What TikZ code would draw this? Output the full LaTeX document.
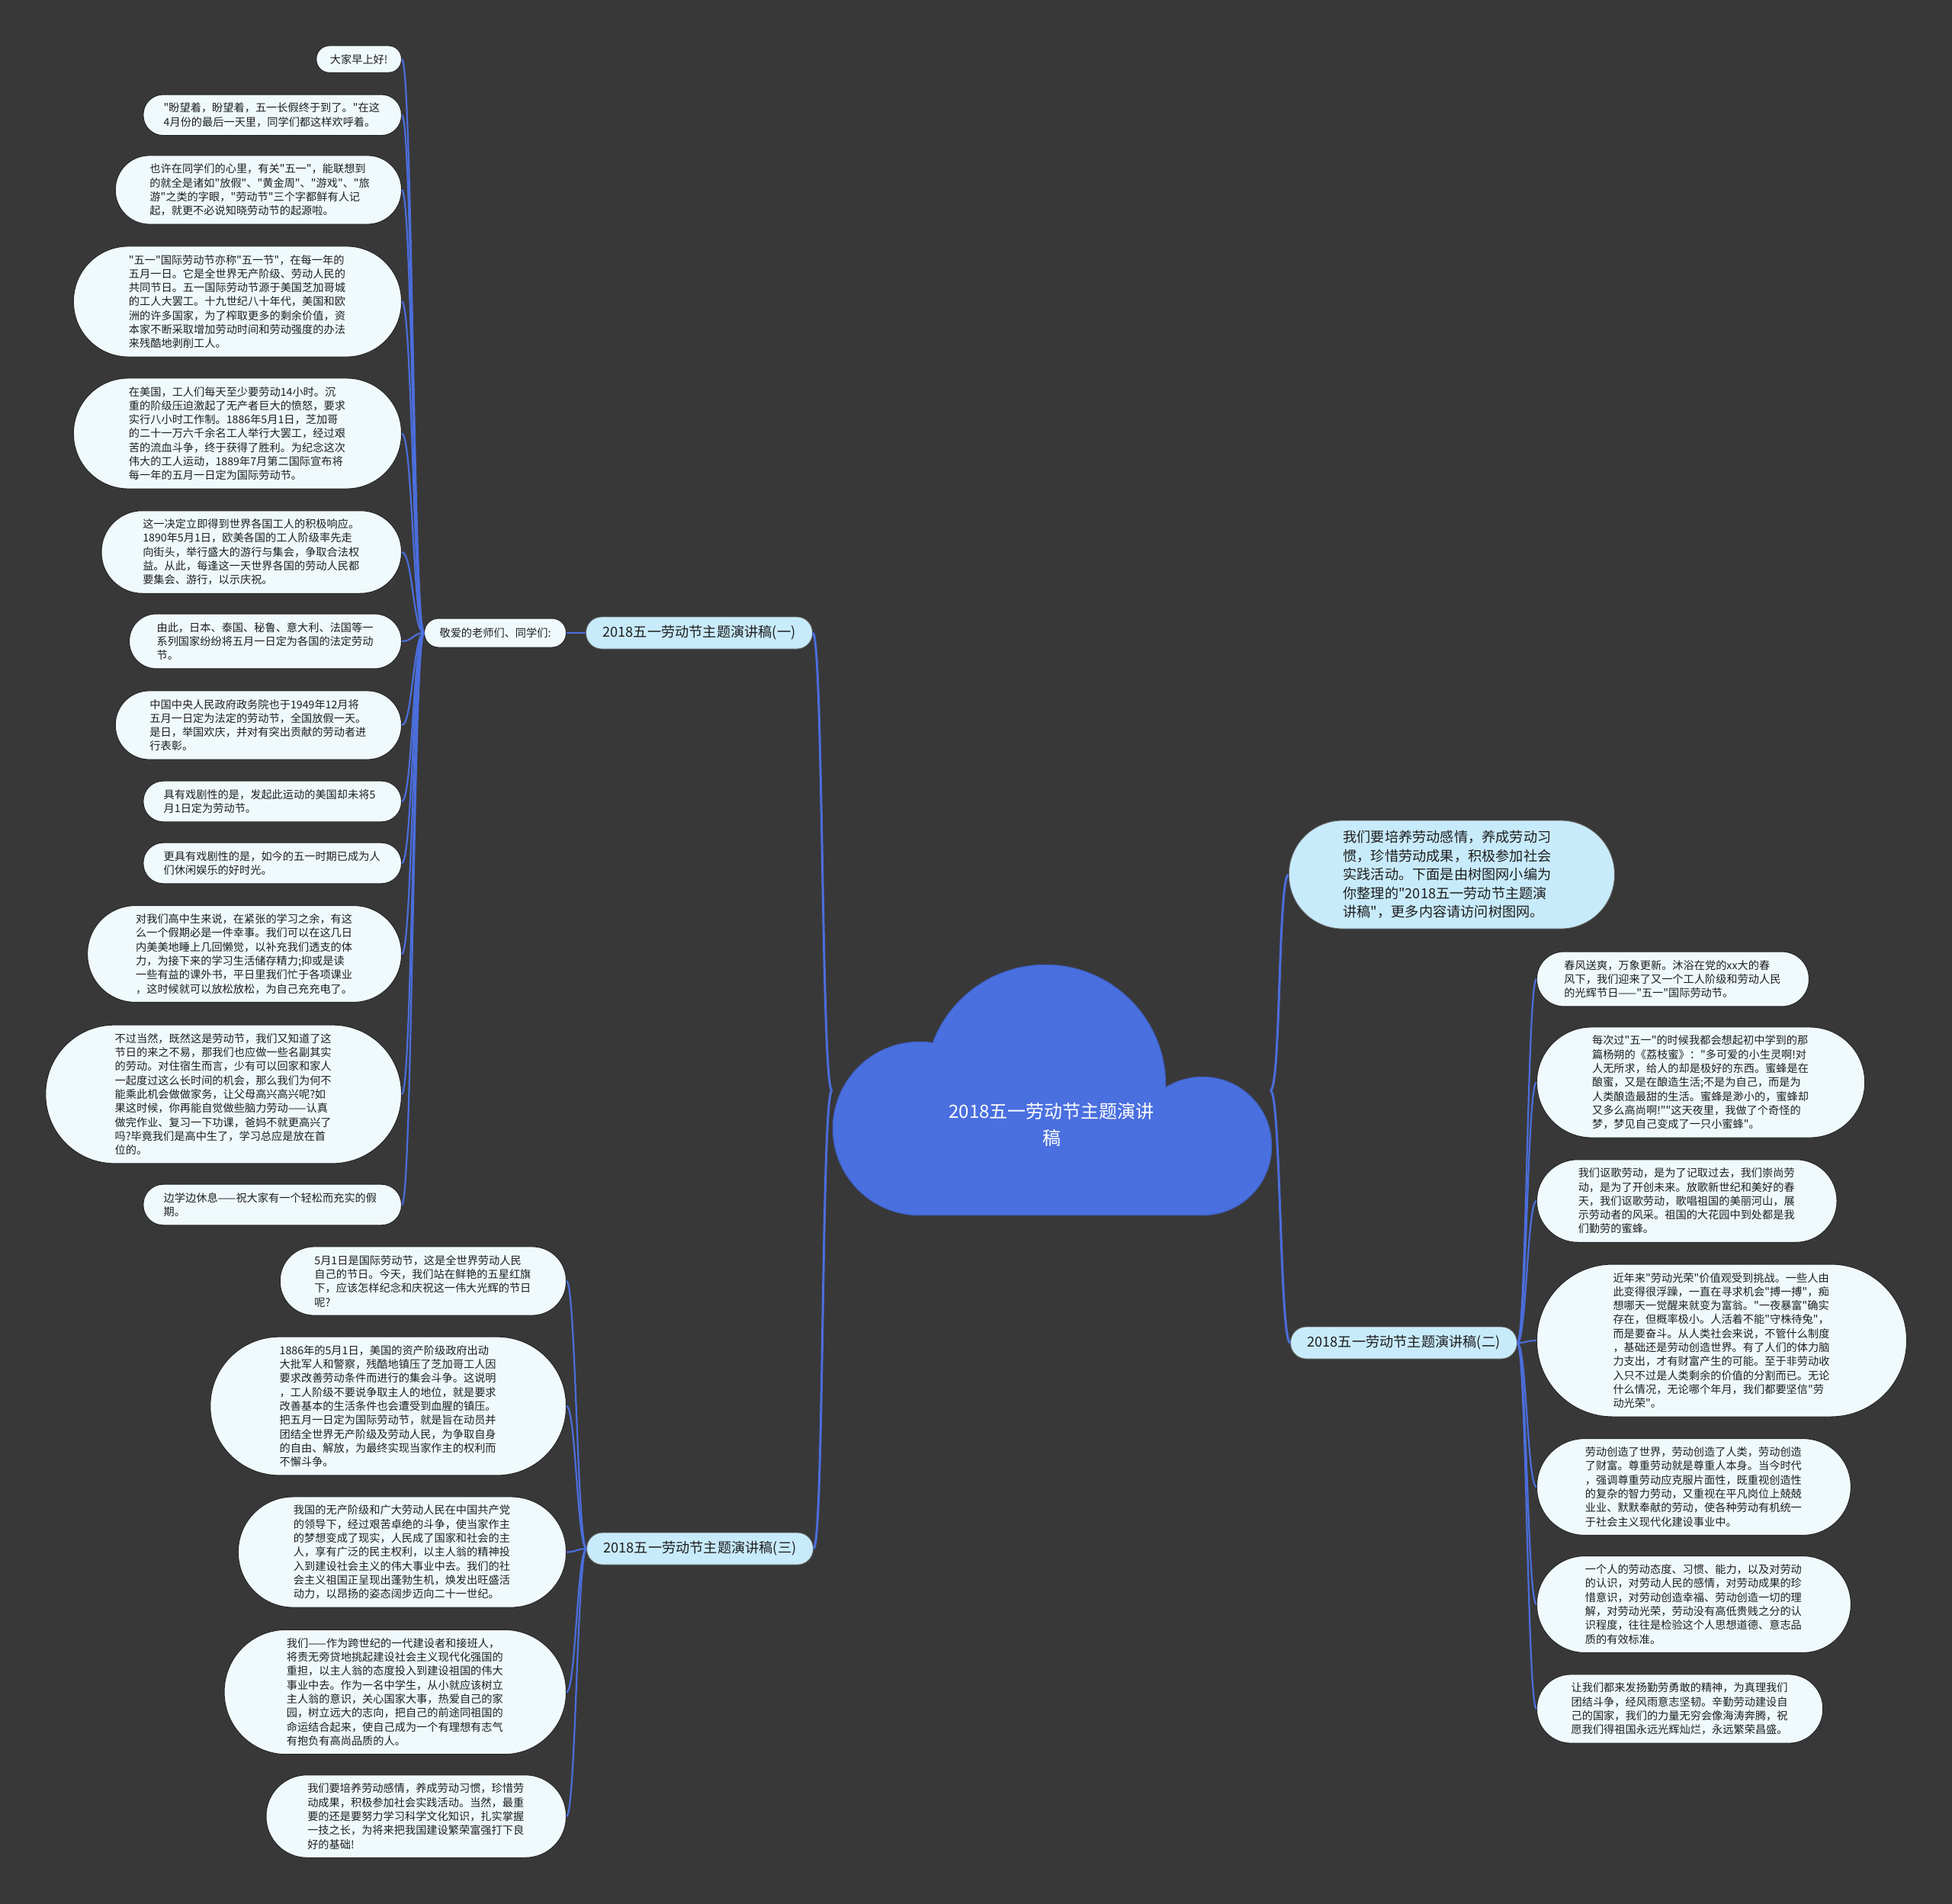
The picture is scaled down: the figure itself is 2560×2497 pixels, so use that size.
\documentclass[tikz,border=0pt]{standalone}
\usepackage{fontspec}
\newfontfamily\cjk{Noto Sans CJK SC}
\definecolor{bgc}{HTML}{393839}
\definecolor{leafc}{HTML}{F0FAFD}
\definecolor{branchc}{HTML}{C8EBFB}
\definecolor{linec}{HTML}{4B6EDC}
\definecolor{cloudc}{HTML}{4A6FDF}
\definecolor{cloudb}{HTML}{3F61C6}
\definecolor{inkc}{HTML}{1E1E1E}
\begin{document}
\begin{tikzpicture}[x=1pt,y=-1pt,
  conn/.style={draw=linec, line width=2.2pt},
  mainconn/.style={draw=linec, line width=3pt},
  leaf/.style={draw=black!85, line width=1pt, fill=leafc, text=inkc,
    font=\cjk\fontsize{14.2pt}{18.3pt}\selectfont,
    text width=285pt, align=left, inner ysep=0pt,
    inner xsep={(18.3*#1+17)/2},
    minimum height={18.3*#1+17},
    rounded corners={(18.3*#1+17)/2-0.5}},
  shortleaf/.style={draw=black!85, line width=1pt, fill=leafc, text=inkc,
    font=\cjk\fontsize{14.2pt}{18.3pt}\selectfont,
    inner ysep=0pt, inner xsep=18pt, minimum height=35.3pt, rounded corners=17pt},
  subnode/.style={draw=black!85, line width=1pt, fill=leafc, text=inkc,
    font=\cjk\fontsize{14.2pt}{18.3pt}\selectfont,
    inner ysep=0pt, inner xsep=20pt, minimum height=38pt, rounded corners=18.5pt},
  branch/.style={fill=branchc, draw=black!60, line width=0.8pt, text=inkc,
    font=\cjk\fontsize{18.2pt}{22pt}\selectfont,
    inner ysep=0pt, inner xsep=22pt, minimum height=42pt, rounded corners=20.5pt},
  intro/.style={fill=branchc, draw=black!60, line width=0.8pt, text=inkc,
    font=\cjk\fontsize{18.2pt}{24.6pt}\selectfont,
    text width=285pt, align=left, inner ysep=0pt, inner xsep=71pt,
    minimum height=142pt, rounded corners=70.5pt},
  roottext/.style={text=white, align=center,
    font=\cjk\fontsize{24pt}{35pt}\selectfont},
  cloudpart/.style={fill=cloudc}
]
\useasboundingbox (0,0) rectangle (2560,2497);
\fill[bgc] (0,0) rectangle (2560,2497);

% ---------- cloud (root) ----------
\begin{scope}
\draw[cloudb, line width=2.5pt] (1206,1480) circle[radius=113];
\draw[cloudb, line width=2.5pt] (1371,1423) circle[radius=157];
\draw[cloudb, line width=2.5pt] (1577,1503) circle[radius=90];
\draw[cloudb, line width=2.5pt] (1206,1440) rectangle (1577,1593);
\fill[cloudpart] (1206,1480) circle[radius=113];
\fill[cloudpart] (1371,1423) circle[radius=157];
\fill[cloudpart] (1577,1503) circle[radius=90];
\fill[cloudpart] (1206,1440) rectangle (1577,1593);
\end{scope}
\node[roottext] (root) at (1379,1475) {2018五一劳动节主题演讲\\稿};
\coordinate (cl) at (1091,1430);
\coordinate (cr) at (1666,1430);

% ---------- branch nodes ----------
\node[branch, anchor=center] (b1) at (917,830) {2018五一劳动节主题演讲稿(一)};
\node[branch, anchor=center] (b2) at (1841,1761) {2018五一劳动节主题演讲稿(二)};
\node[branch, anchor=center] (b3) at (918,2031) {2018五一劳动节主题演讲稿(三)};
\node[intro, anchor=west] (intro) at (1690,1147) {我们要培养劳动感情，养成劳动习\\惯，珍惜劳动成果，积极参加社会\\实践活动。下面是由树图网小编为\\你整理的"2018五一劳动节主题演\\讲稿"，更多内容请访问树图网。};

\node[subnode, anchor=east] (k1) at (743,830) {敬爱的老师们、同学们:};

% ---------- branch one leaves ----------
\node[shortleaf, anchor=east] (L1) at (527,77.6) {大家早上好!};
\node[leaf=2, anchor=east] (L2) at (527,150.8) {"盼望着，盼望着，五一长假终于到了。"在这\\4月份的最后一天里，同学们都这样欢呼着。};
\node[leaf=4, anchor=east] (L3) at (527,249) {也许在同学们的心里，有关"五一"，能联想到\\的就全是诸如"放假"、"黄金周"、"游戏"、"旅\\游"之类的字眼，"劳动节"三个字都鲜有人记\\起，就更不必说知晓劳动节的起源啦。};
\node[leaf=7, anchor=east] (L4) at (527,395.5) {"五一"国际劳动节亦称"五一节"，在每一年的\\五月一日。它是全世界无产阶级、劳动人民的\\共同节日。五一国际劳动节源于美国芝加哥城\\的工人大罢工。十九世纪八十年代，美国和欧\\洲的许多国家，为了榨取更多的剩余价值，资\\本家不断采取增加劳动时间和劳动强度的办法\\来残酷地剥削工人。};
\node[leaf=7, anchor=east] (L5) at (527,568.5) {在美国，工人们每天至少要劳动14小时。沉\\重的阶级压迫激起了无产者巨大的愤怒，要求\\实行八小时工作制。1886年5月1日，芝加哥\\的二十一万六千余名工人举行大罢工，经过艰\\苦的流血斗争，终于获得了胜利。为纪念这次\\伟大的工人运动，1889年7月第二国际宣布将\\每一年的五月一日定为国际劳动节。};
\node[leaf=5, anchor=east] (L6) at (527,724) {这一决定立即得到世界各国工人的积极响应。\\1890年5月1日，欧美各国的工人阶级率先走\\向街头，举行盛大的游行与集会，争取合法权\\益。从此，每逢这一天世界各国的劳动人民都\\要集会、游行，以示庆祝。};
\node[leaf=3, anchor=east] (L7) at (527,841) {由此，日本、泰国、秘鲁、意大利、法国等一\\系列国家纷纷将五月一日定为各国的法定劳动\\节。};
\node[leaf=4, anchor=east] (L8) at (527,951) {中国中央人民政府政务院也于1949年12月将\\五月一日定为法定的劳动节，全国放假一天。\\是日，举国欢庆，并对有突出贡献的劳动者进\\行表彰。};
\node[leaf=2, anchor=east] (L9) at (527,1051) {具有戏剧性的是，发起此运动的美国却未将5\\月1日定为劳动节。};
\node[leaf=2, anchor=east] (L10) at (527,1132) {更具有戏剧性的是，如今的五一时期已成为人\\们休闲娱乐的好时光。};
\node[leaf=6, anchor=east] (L11) at (527,1251) {对我们高中生来说，在紧张的学习之余，有这\\么一个假期必是一件幸事。我们可以在这几日\\内美美地睡上几回懒觉，以补充我们透支的体\\力，为接下来的学习生活储存精力;抑或是读\\一些有益的课外书，平日里我们忙于各项课业\\，这时候就可以放松放松，为自己充充电了。};
\node[leaf=9, anchor=east] (L12) at (527,1435) {不过当然，既然这是劳动节，我们又知道了这\\节日的来之不易，那我们也应做一些名副其实\\的劳动。对住宿生而言，少有可以回家和家人\\一起度过这么长时间的机会，那么我们为何不\\能乘此机会做做家务，让父母高兴高兴呢?如\\果这时候，你再能自觉做些脑力劳动——认真\\做完作业、复习一下功课，爸妈不就更高兴了\\吗?毕竟我们是高中生了，学习总应是放在首\\位的。};
\node[leaf=2, anchor=east] (L13) at (527,1580) {边学边休息——祝大家有一个轻松而充实的假\\期。};

% ---------- branch three leaves ----------
\node[leaf=4, anchor=east] (T1) at (743,1680) {5月1日是国际劳动节，这是全世界劳动人民\\自己的节日。今天，我们站在鲜艳的五星红旗\\下，应该怎样纪念和庆祝这一伟大光辉的节日\\呢?};
\node[leaf=9, anchor=east] (T2) at (743,1844) {1886年的5月1日，美国的资产阶级政府出动\\大批军人和警察，残酷地镇压了芝加哥工人因\\要求改善劳动条件而进行的集会斗争。这说明\\，工人阶级不要说争取主人的地位，就是要求\\改善基本的生活条件也会遭受到血腥的镇压。\\把五月一日定为国际劳动节，就是旨在动员并\\团结全世界无产阶级及劳动人民，为争取自身\\的自由、解放，为最终实现当家作主的权利而\\不懈斗争。};
\node[leaf=7, anchor=east] (T3) at (743,2035.5) {我国的无产阶级和广大劳动人民在中国共产党\\的领导下，经过艰苦卓绝的斗争，使当家作主\\的梦想变成了现实，人民成了国家和社会的主\\人，享有广泛的民主权利，以主人翁的精神投\\入到建设社会主义的伟大事业中去。我们的社\\会主义祖国正呈现出蓬勃生机，焕发出旺盛活\\动力，以昂扬的姿态阔步迈向二十一世纪。};
\node[leaf=8, anchor=east] (T4) at (743,2219) {我们——作为跨世纪的一代建设者和接班人，\\将责无旁贷地挑起建设社会主义现代化强国的\\重担，以主人翁的态度投入到建设祖国的伟大\\事业中去。作为一名中学生，从小就应该树立\\主人翁的意识，关心国家大事，热爱自己的家\\园，树立远大的志向，把自己的前途同祖国的\\命运结合起来，使自己成为一个有理想有志气\\有抱负有高尚品质的人。};
\node[leaf=5, anchor=east] (T5) at (743,2382) {我们要培养劳动感情，养成劳动习惯，珍惜劳\\动成果，积极参加社会实践活动。当然，最重\\要的还是要努力学习科学文化知识，扎实掌握\\一技之长，为将来把我国建设繁荣富强打下良\\好的基础!};

% ---------- branch two leaves ----------
\node[leaf=3, anchor=west] (R1) at (2015,1284) {春风送爽，万象更新。沐浴在党的xx大的春\\风下，我们迎来了又一个工人阶级和劳动人民\\的光辉节日——"五一"国际劳动节。};
\node[leaf=7, anchor=west] (R2) at (2015,1419.5) {每次过"五一"的时候我都会想起初中学到的那\\篇杨朔的《荔枝蜜》："多可爱的小生灵啊!对\\人无所求，给人的却是极好的东西。蜜蜂是在\\酿蜜，又是在酿造生活;不是为自己，而是为\\人类酿造最甜的生活。蜜蜂是渺小的，蜜蜂却\\又多么高尚啊!""这天夜里，我做了个奇怪的\\梦，梦见自己变成了一只小蜜蜂"。};
\node[leaf=5, anchor=west] (R3) at (2015,1575) {我们讴歌劳动，是为了记取过去，我们崇尚劳\\动，是为了开创未来。放歌新世纪和美好的春\\天，我们讴歌劳动，歌唱祖国的美丽河山，展\\示劳动者的风采。祖国的大花园中到处都是我\\们勤劳的蜜蜂。};
\node[leaf=10, anchor=west] (R4) at (2015,1758) {近年来"劳动光荣"价值观受到挑战。一些人由\\此变得很浮躁，一直在寻求机会"搏一搏"，痴\\想哪天一觉醒来就变为富翁。"一夜暴富"确实\\存在，但概率极小。人活着不能"守株待兔"，\\而是要奋斗。从人类社会来说，不管什么制度\\，基础还是劳动创造世界。有了人们的体力脑\\力支出，才有财富产生的可能。至于非劳动收\\入只不过是人类剩余的价值的分割而已。无论\\什么情况，无论哪个年月，我们都要坚信"劳\\动光荣"。};
\node[leaf=6, anchor=west] (R5) at (2015,1950) {劳动创造了世界，劳动创造了人类，劳动创造\\了财富。尊重劳动就是尊重人本身。当今时代\\，强调尊重劳动应克服片面性，既重视创造性\\的复杂的智力劳动，又重视在平凡岗位上兢兢\\业业、默默奉献的劳动，使各种劳动有机统一\\于社会主义现代化建设事业中。};
\node[leaf=6, anchor=west] (R6) at (2015,2104) {一个人的劳动态度、习惯、能力，以及对劳动\\的认识，对劳动人民的感情，对劳动成果的珍\\惜意识，对劳动创造幸福、劳动创造一切的理\\解，对劳动光荣，劳动没有高低贵贱之分的认\\识程度，往往是检验这个人思想道德、意志品\\质的有效标准。};
\node[leaf=4, anchor=west] (R7) at (2015,2241) {让我们都来发扬勤劳勇敢的精神，为真理我们\\团结斗争，经风雨意志坚韧。辛勤劳动建设自\\己的国家，我们的力量无穷会像海涛奔腾，祝\\愿我们得祖国永远光辉灿烂，永远繁荣昌盛。};

% ---------- connectors ----------
\draw[mainconn] (cl) .. controls +(-14,0) and +(14,0) .. (b1.east);
\draw[mainconn] (cl) .. controls +(-14,0) and +(14,0) .. (b3.east);
\draw[mainconn] (cr) .. controls +(14,0) and +(-14,0) .. (intro.west);
\draw[mainconn] (cr) .. controls +(14,0) and +(-14,0) .. (b2.west);
\draw[conn] (b1.west) -- (k1.east);
\foreach \n in {L1,L2,L3,L4,L5,L6,L7,L8,L9,L10,L11,L12,L13}
  \draw[conn] (k1.west) .. controls +(-14,0) and +(14,0) .. (\n.east);
\foreach \n in {T1,T2,T3,T4,T5}
  \draw[conn] (b3.west) .. controls +(-12,0) and +(12,0) .. (\n.east);
\foreach \n in {R1,R2,R3,R4,R5,R6,R7}
  \draw[conn] (b2.east) .. controls +(12,0) and +(-12,0) .. (\n.west);
\end{tikzpicture}
\end{document}
